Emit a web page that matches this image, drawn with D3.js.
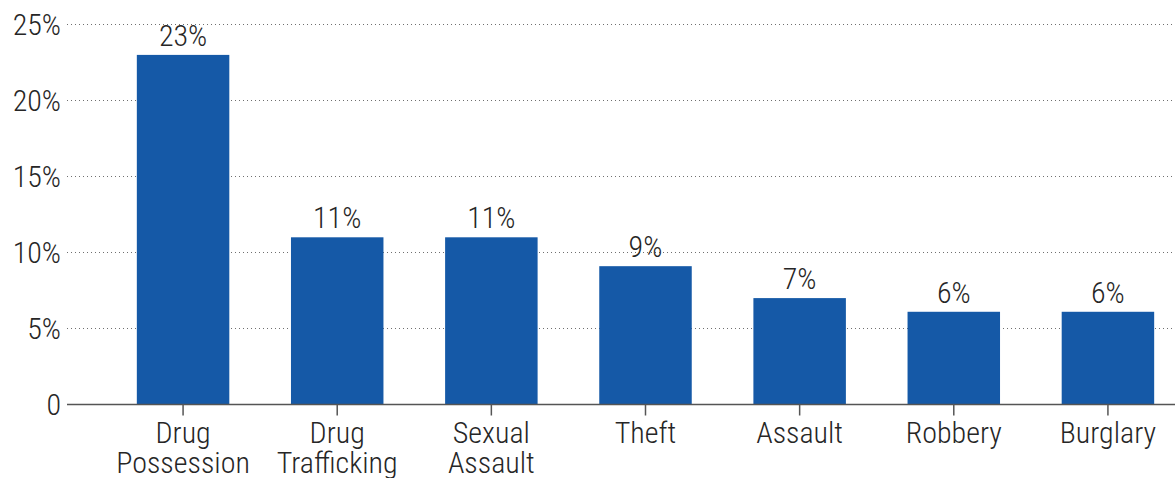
<!DOCTYPE html>
<html>
<head>
<meta charset="utf-8">
<script src="https://cdn.jsdelivr.net/npm/d3@7"></script>
<style>
  body { margin: 0; background: #fff; }
  text { font-family: "Roboto Condensed", "Liberation Sans Narrow", "DejaVu Sans Condensed", Roboto, sans-serif; font-weight: 300; fill: #262626; }
</style>
</head>
<body>
<svg id="chart" width="1175" height="478"></svg>
<script>
const categories = [["Drug", "Possession"], ["Drug", "Trafficking"], ["Sexual", "Assault"], ["Theft"], ["Assault"], ["Robbery"], ["Burglary"]];
const values = [23, 11, 11, 9.1, 7, 6.1, 6.1];
const value_labels = ["23%", "11%", "11%", "9%", "7%", "6%", "6%"];
const y_ticks = [0, 5, 10, 15, 20, 25];
const y_tick_labels = ["0", "5%", "10%", "15%", "20%", "25%"];

const width = 1175, height = 478;
const bar_color = '#1559a7';
const font_size = 30;

const svg = d3.select('#chart');

const x = d3.scaleBand()
  .domain(d3.range(categories.length))
  .range([106, 1185])
  .paddingInner(0.4)
  .paddingOuter(0.2);

const y = d3.scaleLinear()
  .domain([0, 25])
  .range([404.5, 24.5]);

// gridlines
svg.append('g')
  .selectAll('line')
  .data(y_ticks.filter(d => d > 0))
  .join('line')
  .attr('x1', 67)
  .attr('x2', width)
  .attr('y1', d => y(d))
  .attr('y2', d => y(d))
  .attr('stroke', '#6f6f6f')
  .attr('stroke-width', 1)
  .attr('stroke-dasharray', '1,3');

// y tick labels
svg.append('g')
  .selectAll('text')
  .data(y_ticks)
  .join('text')
  .attr('x', 61)
  .attr('y', d => y(d))
  .attr('dy', '0.36em')
  .attr('text-anchor', 'end')
  .style('font-size', font_size + 'px')
  .text((d, i) => y_tick_labels[i]);

// bars
svg.append('g')
  .selectAll('rect')
  .data(values)
  .join('rect')
  .attr('x', (d, i) => x(i))
  .attr('width', x.bandwidth())
  .attr('y', d => y(d))
  .attr('height', d => y(0) - y(d))
  .attr('fill', bar_color);

// value labels
svg.append('g')
  .selectAll('text')
  .data(values)
  .join('text')
  .attr('x', (d, i) => x(i) + x.bandwidth() / 2)
  .attr('y', d => y(d) - 9)
  .attr('text-anchor', 'middle')
  .style('font-size', font_size + 'px')
  .text((d, i) => value_labels[i]);

// x axis line + ticks
svg.append('line')
  .attr('x1', 67).attr('x2', width)
  .attr('y1', y(0)).attr('y2', y(0))
  .attr('stroke', '#555').attr('stroke-width', 1.5);

svg.append('g')
  .selectAll('line')
  .data(categories)
  .join('line')
  .attr('x1', (d, i) => x(i) + x.bandwidth() / 2)
  .attr('x2', (d, i) => x(i) + x.bandwidth() / 2)
  .attr('y1', y(0))
  .attr('y2', y(0) + 11)
  .attr('stroke', '#555')
  .attr('stroke-width', 1.5);

// category labels
const cat_labels = svg.append('g')
  .selectAll('text')
  .data(categories)
  .join('text')
  .attr('text-anchor', 'middle')
  .style('font-size', font_size + 'px');

cat_labels.selectAll('tspan')
  .data((d, i) => d.map(line => ({line, i})))
  .join('tspan')
  .attr('x', d => x(d.i) + x.bandwidth() / 2)
  .attr('y', (d, j) => 443 + j * 30)
  .text(d => d.line);
</script>
</body>
</html>
